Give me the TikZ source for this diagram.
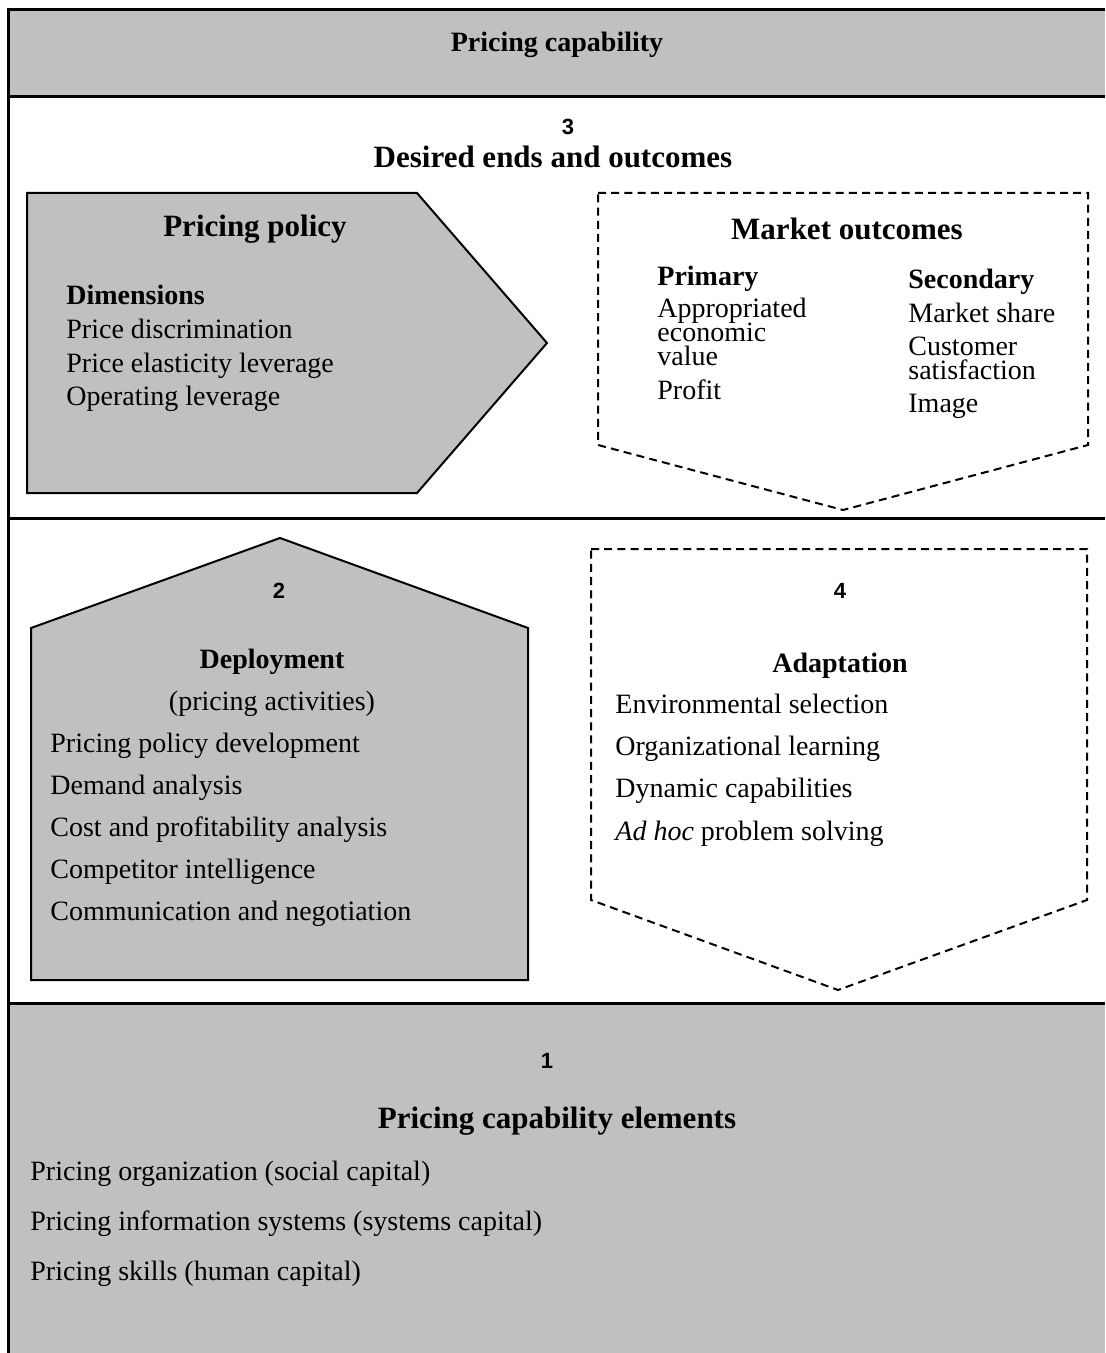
\documentclass[tikz,border=0pt]{standalone}
\usepackage{fontspec}
\setmainfont{Liberation Serif}
\setsansfont{Liberation Sans}
\usetikzlibrary{positioning}
\definecolor{panelgray}{HTML}{C0C0C0}

% lines set close together, baseline of the node = first line
\newcommand{\tightstack}[1]{\vtop{\baselineskip=12pt\lineskiplimit=-20pt #1}}

\tikzset{
  band/.style={fill=panelgray},
  frameline/.style={line width=1.5pt},
  solidshape/.style={draw, fill=panelgray, line width=1pt, line join=miter},
  dashshape/.style={draw, line width=1pt, dash pattern=on 4pt off 2.6pt},
  heading/.style={font=\bfseries\fontsize{15.5}{18}\selectfont, anchor=base, inner sep=0pt},
  subhead/.style={font=\bfseries\fontsize{14}{16}\selectfont, anchor=base, inner sep=0pt},
  item/.style={font=\fontsize{14}{16}\selectfont, anchor=base west, inner sep=0pt},
  numlabel/.style={font=\sffamily\bfseries\fontsize{11}{13}\selectfont, anchor=base, inner sep=0pt},
}

\begin{document}
\begin{tikzpicture}[x=0.5pt, y=-0.5pt]
    \useasboundingbox (0,0) rectangle (1105,1353);
    % grey bands top and bottom
    \fill[band] (8,10) rectangle (1105,97);
    \fill[band] (8,1003) rectangle (1105,1353);
    % frame
    \draw[frameline] (8,1353) -- (8,10) -- (1105,10);
    \draw[frameline] (8,97) -- (1105,97);
    \draw[frameline] (8,518) -- (1105,518);
    \draw[frameline] (8,1003) -- (1105,1003);

    % shapes
    \draw[solidshape] (27,193) -- (417,193) -- (547,343) -- (417,493) -- (27,493) -- cycle;
    \draw[dashshape] (598,193) -- (1088,193) -- (1088,445) -- (843,510) -- (598,445) -- cycle;
    \draw[solidshape] (31,980) -- (31,628) -- (280,538) -- (528,628) -- (528,980) -- cycle;
    \draw[dashshape] (591,549) -- (1087,549) -- (1087,900) -- (838,990) -- (591,900) -- cycle;

    % top band
    \node[subhead] (capability) at (557,52) {Pricing capability};

    % section 3
    \node[numlabel] (num3) at (568,135) {3};
    \node[heading] (ends) at (553,168) {Desired ends and outcomes};

    \node[heading] (policy) at (255,237) {Pricing policy};
    \node[subhead, anchor=base west] (dims) at (66,305) {Dimensions};
    \node[item] (dim1) at (66,338) {Price discrimination};
    \node[item] (dim2) at (66,372) {Price elasticity leverage};
    \node[item] (dim3) at (66,405) {Operating leverage};

    \node[heading] (market) at (847,240) {Market outcomes};
    \node[subhead, anchor=base west] (prim) at (657,286) {Primary};
    \node[item] (prim1) at (657,318) {\tightstack{\hbox{Appropriated}\hbox{economic}\hbox{value}}};
    \node[item] (prim2) at (657,399) {Profit};
    \node[subhead, anchor=base west] (sec) at (908,289) {Secondary};
    \node[item] (sec1) at (908,323) {Market share};
    \node[item] (sec2) at (908,356) {\tightstack{\hbox{Customer}\hbox{satisfaction}}};
    \node[item] (sec3) at (908,412) {Image};

    % section 2
    \node[numlabel] (num2) at (279,598) {2};
    \node[subhead] (deploy) at (272,668) {Deployment};
    \node[item, anchor=base] (deploysub) at (272,710) {(pricing activities)};
    \node[item] (act1) at (50,752) {Pricing policy development};
    \node[item] (act2) at (50,794) {Demand analysis};
    \node[item] (act3) at (50,836) {Cost and profitability analysis};
    \node[item] (act4) at (50,878) {Competitor intelligence};
    \node[item] (act5) at (50,920) {Communication and negotiation};

    % section 4
    \node[numlabel] (num4) at (840,598) {4};
    \node[subhead] (adapt) at (840,672) {Adaptation};
    \node[item] (ad1) at (615,713) {Environmental selection};
    \node[item] (ad2) at (615,755) {Organizational learning};
    \node[item] (ad3) at (615,797) {Dynamic capabilities};
    \node[item] (ad4) at (615,840) {\textit{Ad hoc} problem solving};

    % section 1
    \node[numlabel] (num1) at (547,1068) {1};
    \node[heading] (elements) at (557,1128) {Pricing capability elements};
    \node[item] (el1) at (30,1180) {Pricing organization (social capital)};
    \node[item] (el2) at (30,1230) {Pricing information systems (systems capital)};
    \node[item] (el3) at (30,1280) {Pricing skills (human capital)};
\end{tikzpicture}
\end{document}
